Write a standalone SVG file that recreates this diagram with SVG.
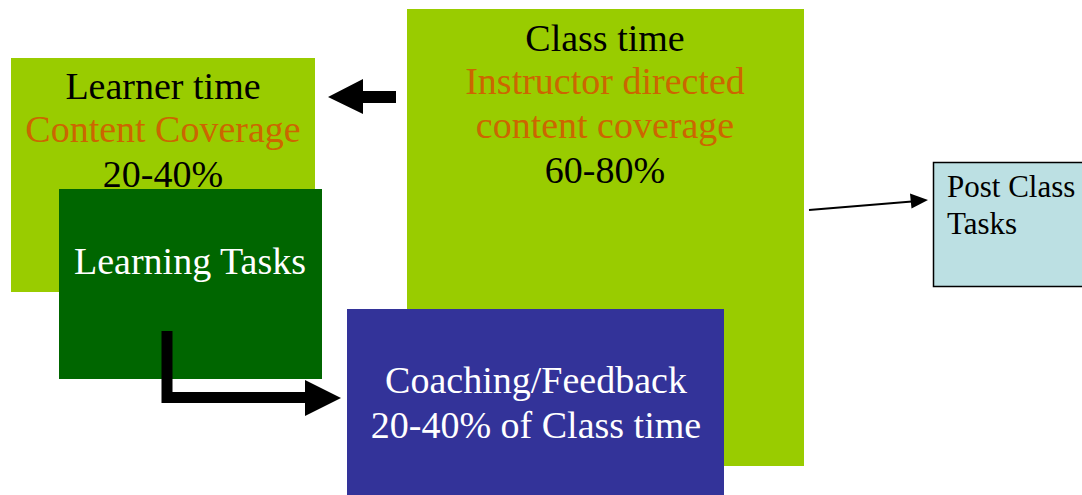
<svg xmlns="http://www.w3.org/2000/svg" width="1082" height="495" viewBox="0 0 1082 495">
<style>
text{font-family:'Liberation Serif','Times New Roman',serif;text-anchor:middle;font-size:38px}
.k{fill:#000}.o{fill:#CC6600}.w{fill:#fff}
.lime{fill:#99CC00}
.pc{font-size:31px;text-anchor:start}
</style>
<rect width="1082" height="495" fill="#fff"/>
<g id="learner-time">
<rect class="lime" x="11" y="58" width="304" height="234"/>
<text class="k" x="163" y="99">Learner time</text>
<text class="o" x="163" y="142">Content Coverage</text>
<text class="k" x="163" y="187">20-40%</text>
</g>
<g id="learning-tasks">
<rect x="59" y="189" width="263" height="190" fill="#006600"/>
<text class="w" x="190" y="274">Learning Tasks</text>
</g>
<g id="class-time">
<rect class="lime" x="407" y="9" width="397" height="457"/>
<text class="k" x="605" y="51">Class time</text>
<text class="o" x="605" y="94">Instructor directed</text>
<text class="o" x="605" y="138">content coverage</text>
<text class="k" x="605" y="183">60-80%</text>
</g>
<g id="coaching">
<rect x="347" y="309" width="377" height="186" fill="#333399"/>
<text class="w" x="536" y="393">Coaching/Feedback</text>
<text class="w" x="536" y="438">20-40% of Class time</text>
</g>
<g id="post-class">
<rect x="933.5" y="162.5" width="160" height="124" fill="#BCE0E3" stroke="#000" stroke-width="1.5"/>
<text class="k pc" x="947" y="197">Post Class</text>
<text class="k pc" x="947" y="234">Tasks</text>
</g>
<g id="connectors">
<polygon points="328,97 363,79 363,91 396,91 396,103 363,103 363,114" fill="#000"/>
<line x1="809" y1="210" x2="912" y2="201.5" stroke="#000" stroke-width="2"/>
<polygon points="928,200 910,193.5 911.5,208.5" fill="#000"/>
<polyline points="167,331 167,397.5 306,397.5" fill="none" stroke="#000" stroke-width="11"/>
<polygon points="305,380 341,398 305,416" fill="#000"/>
</g>
</svg>
